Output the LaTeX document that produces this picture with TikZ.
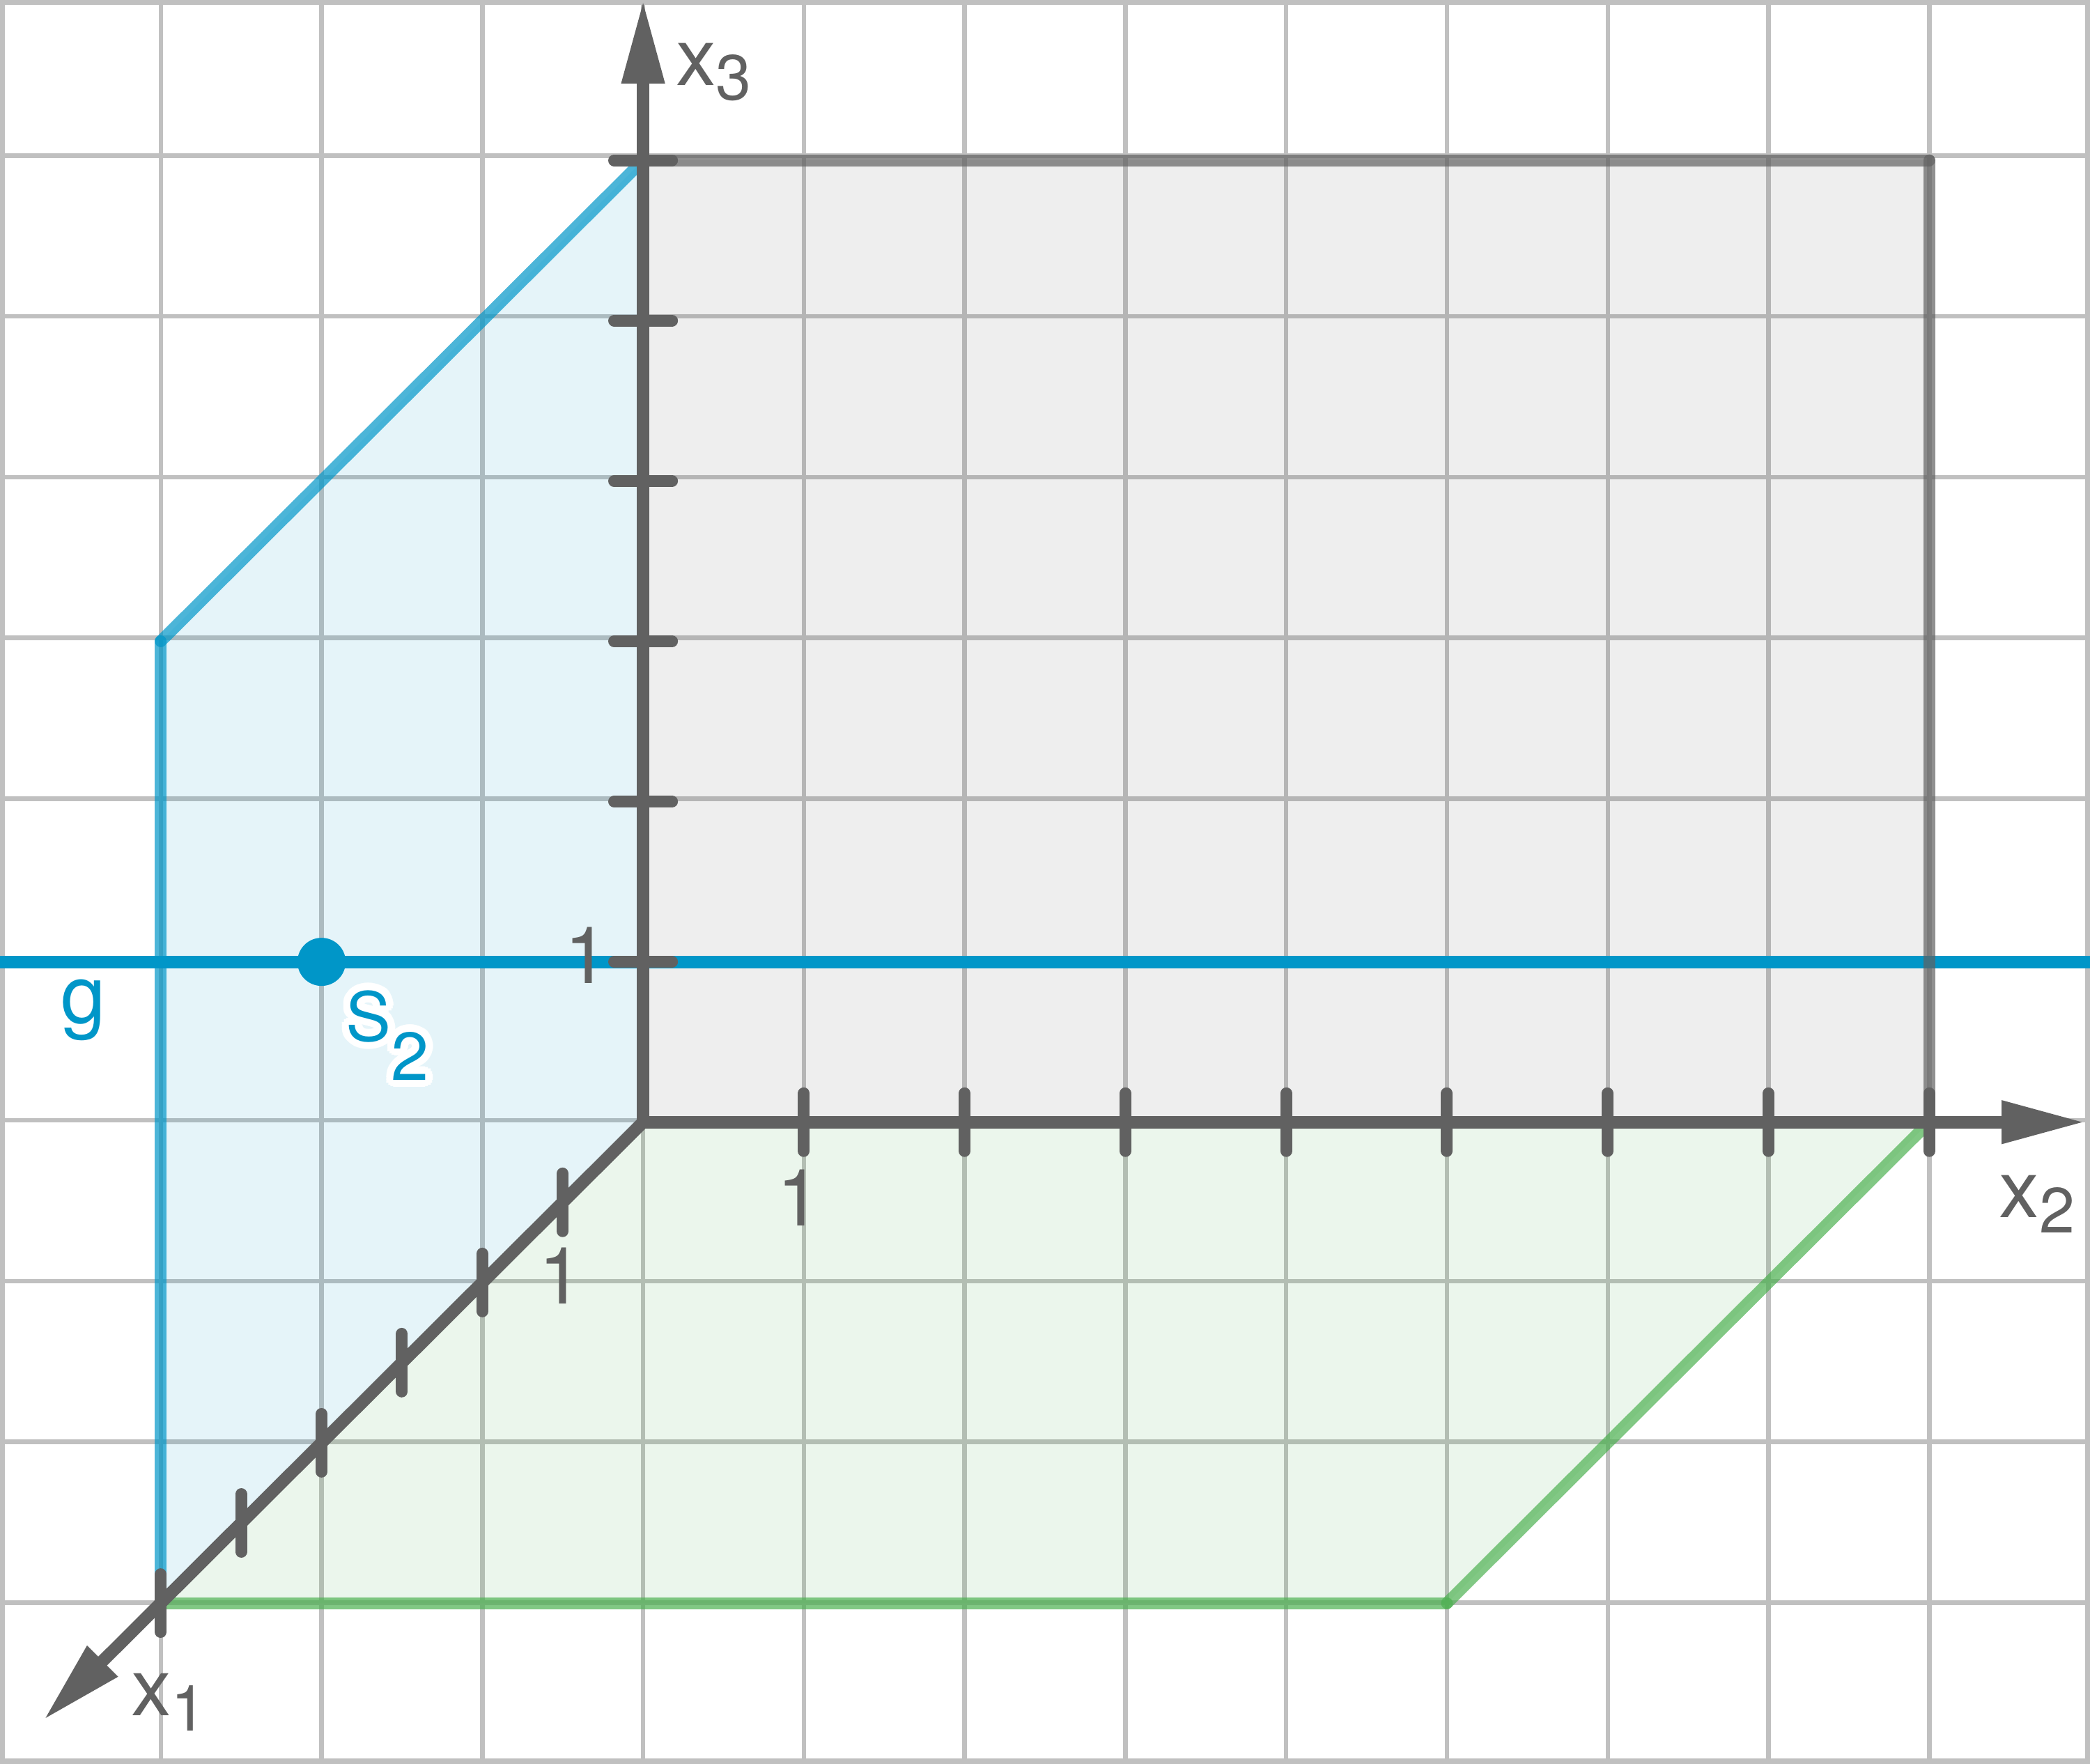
\documentclass[tikz,border=0pt]{standalone}
\usepackage{tikz}
\usepackage{fontspec, contour}
\setmainfont{TeX Gyre Heros}
\usetikzlibrary{arrows.meta}
\definecolor{axgray}{HTML}{616161}
\definecolor{gridgray}{HTML}{C0C0C0}
\definecolor{gblue}{HTML}{0096C8}
\definecolor{pgreen}{HTML}{4CB050}
\contourlength{1.3pt}
\newcommand{\xlab}[1]{\fontsize{14.2}{14}\selectfont x\raisebox{-2.7pt}{\fontsize{11.3}{11}\selectfont #1}}

\begin{document}
\begin{tikzpicture}[x=1cm,y=0.9971cm,
    axis/.style={axgray,line width=2.2pt,-{Triangle[length=0.52cm,width=0.25cm]}},
    tickmark/.style={axgray,line width=2.1pt,line cap=round},
    edge/.style={line width=2.1pt,line cap=round,draw opacity=0.7},
    lbl/.style={text=axgray,inner sep=0pt,font=\fontsize{14}{14}\selectfont}]
    \pgfmathsetmacro{\tk}{0.18} % half tick length
    \pgfmathsetmacro{\gw}{0.015} % half grid line width
    \useasboundingbox (0,0) rectangle (13,11);
    \draw[gridgray,line width=0.8pt] (0,0) grid (13,11);
    \draw[gridgray,line width=0.8pt] (\gw,\gw) rectangle (13-\gw,11-\gw);
    % planes
    \fill[axgray,opacity=0.11] (4,4) rectangle (12,10);
    \fill[gblue,opacity=0.1] (4,4) -- (4,10) -- (1,7) -- (1,1) -- cycle;
    \fill[pgreen,opacity=0.11] (4,4) -- (1,1) -- (9,1) -- (12,4) -- cycle;
    % line g
    \draw[gblue,line width=2.2pt] (0,5) -- (13,5);
    \draw[edge,axgray] (4,10) -- (12,10);
    \draw[edge,axgray] (12,10) -- (12,4);
    \draw[edge,gblue] (4,10) -- (1,7);
    \draw[edge,gblue] (1,7) -- (1,1);
    \draw[edge,pgreen] (1,1) -- (9,1);
    \draw[edge,pgreen] (9,1) -- (12,4);
    % axes
    \coordinate (O) at (4,4);
    \draw[axis] (O) -- (12.97,4) coordinate (X2);
    \draw[axis] (O) -- (4,11) coordinate (X3);
    \draw[axis] (O) -- (0.27,0.27) coordinate (X1);
    \foreach \i in {5,...,12} \draw[tickmark] (\i,4-\tk) -- (\i,4+\tk);
    \foreach \i in {5,...,10} \draw[tickmark] (4-\tk,\i) -- (4+\tk,\i);
    \foreach \i in {1,...,6} \draw[tickmark] ({4-\i/2},{4-\i/2-\tk}) -- ({4-\i/2},{4-\i/2+\tk});
    % point S2
    \fill[gblue] (2,5) circle (0.15) coordinate (S);
    \node[lbl] (lx1) at (1.05,0.38) {\xlab{1}};
    \node[lbl] (lx2) at (12.67,3.49) {\xlab{2}};
    \node[lbl] (lx3) at (4.44,10.55) {\xlab{3}};
    \node[lbl] (one2) at (4.97,3.53) {1};
    \node[lbl] (one1) at (3.49,3.04) {1};
    \node[lbl] (one3) at (3.65,5.04) {1};
    \node[lbl,text=gblue,font=\fontsize{14.3}{14}\selectfont] (lg) at (0.52,4.70) {g};
    \node[lbl,text=gblue,font=\fontsize{12}{12}\selectfont] (lS) at (2.41,4.52) {\contour{white}{S\raisebox{-6.9pt}{2}}};
\end{tikzpicture}
\end{document}
